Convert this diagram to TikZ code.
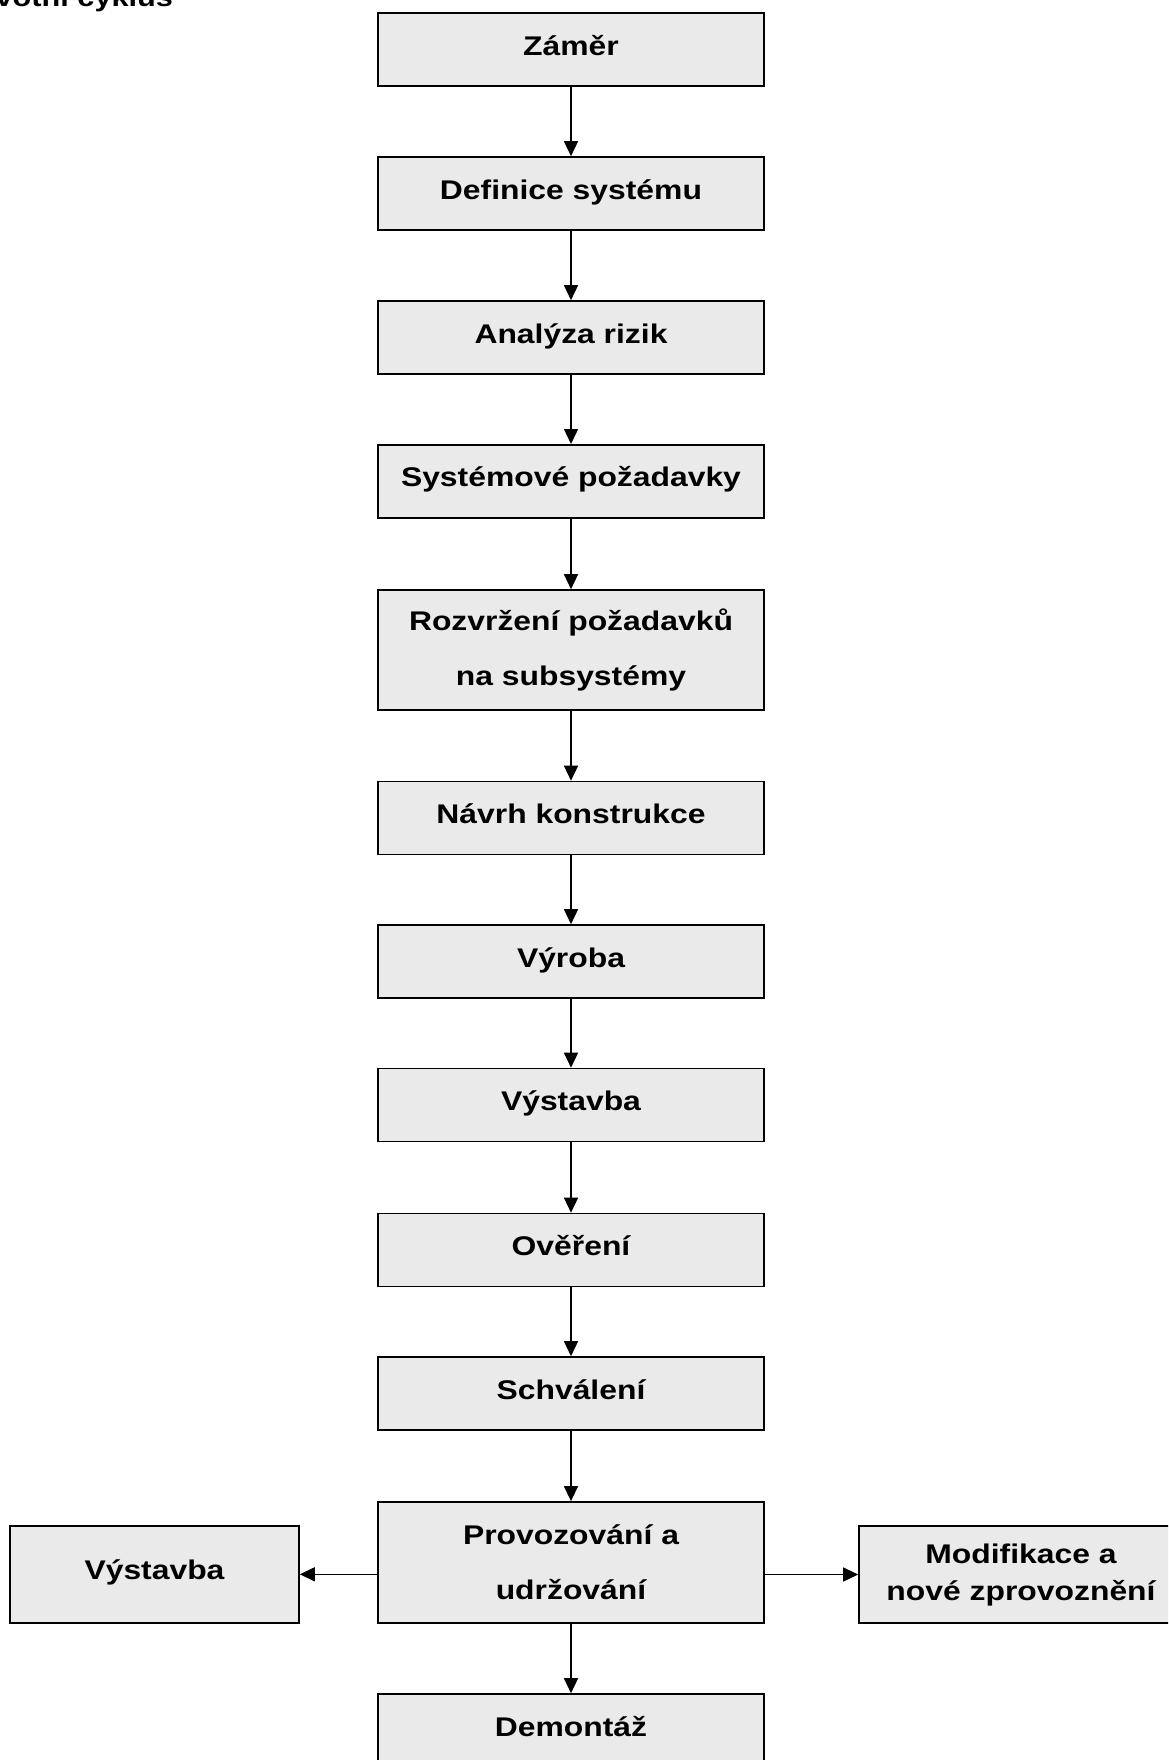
\documentclass[tikz,border=0pt]{standalone}
\usepackage{fontspec}
\setmainfont[FakeStretch=1.18]{Liberation Sans}
\usetikzlibrary{arrows.meta}
\definecolor{boxfill}{HTML}{EAEAEA}
\begin{document}
\begin{tikzpicture}[x=0.5pt,y=-0.5pt,
  basebox/.style={draw=black, line width=0.8pt, fill=boxfill, inner sep=0pt,
    minimum width=193pt},
  stepbox/.style={basebox, minimum height=36.5pt,
    font=\fontsize{13.5pt}{16pt}\selectfont\bfseries, text height=9.67pt, text depth=4pt},
  tallbox/.style={basebox, minimum height=60pt, align=center,
    font=\fontsize{13.5pt}{27.5pt}\selectfont\bfseries},
  arr/.style={draw=black, line width=0.7pt, -{Triangle[length=7.5pt,width=7pt]}}
]
\useasboundingbox (0,0) rectangle (1168,1760);
\clip (0,0) rectangle (1168,1760);
\fill[white] (0,0) rectangle (1168,1760);

\node[anchor=base west, inner sep=0pt, font=\fontsize{13pt}{16pt}\selectfont\bfseries] (title) at (-32,6.5) {Životní cyklus};

\node[stepbox] (zamer) at (571,49.5) {Záměr};
\node[stepbox] (def) at (571,193.5) {Definice systému};
\node[stepbox] (anal) at (571,337.5) {Analýza rizik};
\node[stepbox] (sysp) at (571,481.3) {Systémové požadavky};
\node[tallbox] (rozv) at (571,650) {Rozvržení požadavků\\na subsystémy};
\node[stepbox] (navrh) at (571,818) {Návrh konstrukce};
\node[stepbox] (vyroba) at (571,961.5) {Výroba};
\node[stepbox] (vyst) at (571,1105) {Výstavba};
\node[stepbox] (over) at (571,1250) {Ověření};
\node[stepbox] (schv) at (571,1393.5) {Schválení};
\node[tallbox, minimum height=60.5pt] (prov) at (571,1562.4) {Provozování a\\udržování};
\node[stepbox] (demo) at (571,1730.5) {Demontáž};
\node[stepbox, minimum width=144.5pt, minimum height=48.5pt] (vyst2) at (154.5,1574.3) {Výstavba};
\node[basebox, minimum width=162pt, minimum height=48.5pt, align=center,
  font=\fontsize{13.5pt}{18.5pt}\selectfont\bfseries] (modif) at (1021,1574.5) {Modifikace a\\nové zprovoznění};

\draw[arr] (zamer) -- (def);
\draw[arr] (def) -- (anal);
\draw[arr] (anal) -- (sysp);
\draw[arr] (sysp) -- (rozv);
\draw[arr] (rozv) -- (navrh);
\draw[arr] (navrh) -- (vyroba);
\draw[arr] (vyroba) -- (vyst);
\draw[arr] (vyst) -- (over);
\draw[arr] (over) -- (schv);
\draw[arr] (schv) -- (prov);
\draw[arr] (prov) -- (demo);
\draw[arr] (prov.west |- vyst2.east) -- (vyst2.east);
\draw[arr] (prov.east |- modif.west) -- (modif.west);
\end{tikzpicture}
\end{document}
